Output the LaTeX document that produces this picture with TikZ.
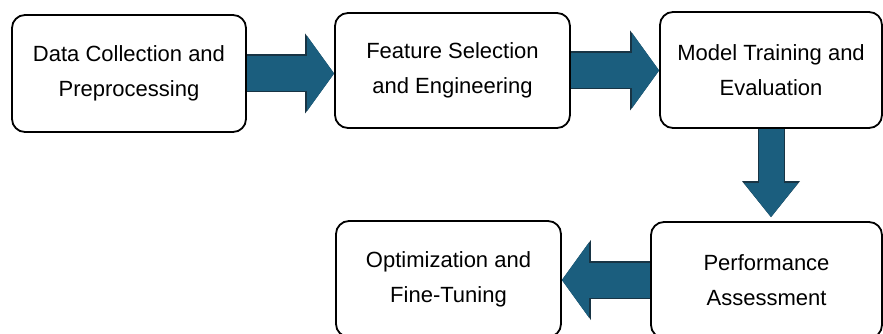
\documentclass[tikz,border=0pt]{standalone}
\usepackage{fontspec}
\setmainfont{Liberation Sans}
\usetikzlibrary{arrows.meta,backgrounds,calc}
\definecolor{flowfill}{RGB}{27,94,126}
\definecolor{flowedge}{RGB}{24,52,68}
\tikzset{
    pipeline/.style  = {x=1pt, y=-1pt},
    stage/.style     = {draw, line width=1.8pt, fill=white, rounded corners=13pt,
                        align=center, font=\fontsize{22}{35}\selectfont},
    flow edge/.style = {draw=flowedge, line width=38pt,
                        -{Triangle[length=29pt, width=80pt, line width=0pt]}},
    flow/.style      = {draw=flowfill, line width=35pt,
                        -{Triangle[length=27pt, width=75pt, line width=0pt]}},
    down edge/.style = {draw=flowedge, line width=27pt,
                        -{Triangle[length=36pt, width=58pt, line width=0pt]}},
    down/.style      = {draw=flowfill, line width=25pt,
                        -{Triangle[length=34pt, width=54pt, line width=0pt]}}
}
\begin{document}
\begin{tikzpicture}[pipeline]

\path[use as bounding box, clip] (0,0) rectangle (883,334);

% ================= Stages =================
\node[stage, minimum width=234pt, minimum height=117pt]
    (data) at (129, 73.5) {Data Collection and\\Preprocessing};
\node[stage, minimum width=235pt, minimum height=115pt]
    (feature) at (452.5, 70.5) {Feature Selection\\and Engineering};
\node[stage, minimum width=222pt, minimum height=116pt]
    (model) at (771, 70) {Model Training and\\Evaluation};
\node[stage, minimum width=231pt, minimum height=116pt]
    (perf) at (766.5, 280) {Performance\\Assessment};
\node[stage, minimum width=225pt, minimum height=116pt]
    (optim) at (448.5, 279) {Optimization and\\Fine-Tuning};

% ================= Block arrows =================
\begin{scope}[on background layer]
\draw[flow edge] (data.east) -- (data.east -| feature.west);
\draw[flow] (data.east) -- (data.east -| feature.west);
\draw[flow edge] (feature.east) -- (feature.east -| model.west);
\draw[flow] (feature.east) -- (feature.east -| model.west);
\draw[down edge] (model.south) -- ($(model.south |- perf.north)+(0,-4)$);
\draw[down] (model.south) -- ($(model.south |- perf.north)+(0,-4)$);
\draw[flow edge] (perf.west) -- (perf.west -| optim.east);
\draw[flow] (perf.west) -- (perf.west -| optim.east);
\end{scope}

\end{tikzpicture}
\end{document}
